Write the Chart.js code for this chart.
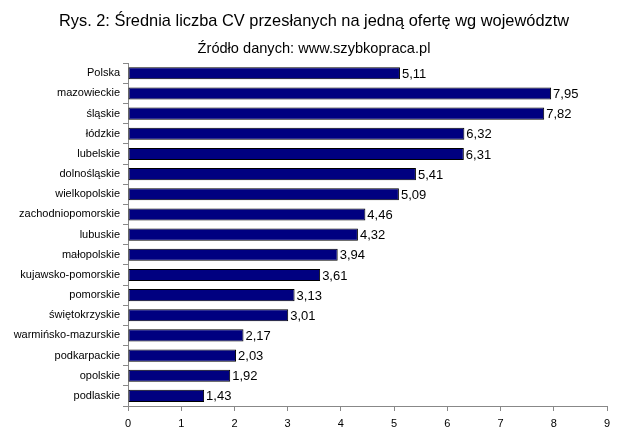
<!DOCTYPE html>
<html><head><meta charset="utf-8">
<script src="https://cdn.jsdelivr.net/npm/chart.js@4/dist/chart.umd.min.js"></script>
<style>html,body{margin:0;padding:0;background:#fff}#wrap{width:628px;height:439px}</style>
</head><body><div id="wrap"><canvas id="c" width="628" height="439"></canvas></div>
<script>
const categories = ["Polska","mazowieckie","śląskie","łódzkie","lubelskie","dolnośląskie","wielkopolskie","zachodniopomorskie","lubuskie","małopolskie","kujawsko-pomorskie","pomorskie","świętokrzyskie","warmińsko-mazurskie","podkarpackie","opolskie","podlaskie"];
const values = [5.11,7.95,7.82,6.32,6.31,5.41,5.09,4.46,4.32,3.94,3.61,3.13,3.01,2.17,2.03,1.92,1.43];
const xTicks = [0,1,2,3,4,5,6,7,8,9];

const FONT = "'Liberation Sans', Arial, sans-serif";
const valueLabels = {
  id: 'valueLabels',
  afterDatasetsDraw(chart) {
    const ctx = chart.ctx;
    const meta = chart.getDatasetMeta(0);
    ctx.save();
    ctx.font = "13px " + FONT;
    ctx.fillStyle = '#000';
    ctx.textBaseline = 'middle';
    ctx.textAlign = 'left';
    meta.data.forEach((bar, i) => {
      ctx.fillText(values[i].toFixed(2).replace('.', ','), bar.x + 2, bar.y + 1);
    });
    ctx.restore();
  }
};

new Chart(document.getElementById('c'), {
  type: 'bar',
  data: {
    labels: categories,
    datasets: [{
      data: values,
      backgroundColor: '#000080',
      borderColor: '#000000',
      borderWidth: 1,
      borderSkipped: false,
      barPercentage: 0.6,
      categoryPercentage: 1.0
    }]
  },
  options: {
    indexAxis: 'y',
    responsive: false,
    animation: false,
    devicePixelRatio: 1,
    layout: { padding: { left: 0, right: 0, top: 0, bottom: 0 } },
    plugins: {
      legend: { display: false },
      tooltip: { enabled: false },
      title: { display: true, text: 'Rys. 2: Średnia liczba CV przesłanych na jedną ofertę wg województw',
        color: '#000', font: { family: FONT, size: 16.4, weight: 'normal' }, padding: { top: 12, bottom: 9 } },
      subtitle: { display: true, text: 'Źródło danych: www.szybkopraca.pl',
        color: '#000', font: { family: FONT, size: 14.6, weight: 'normal' }, padding: { top: 0, bottom: 5 } }
    },
    scales: {
      x: {
        type: 'linear', min: 0, max: 9,
        afterBuildTicks(s) { s.ticks = xTicks.map(v => ({ value: v })); },
        afterFit(s) { s.height = 33; },
        grid: { drawOnChartArea: false, drawTicks: true, tickLength: 5, color: '#888' },
        border: { color: '#888' },
        ticks: { color: '#000', font: { family: FONT, size: 11 }, padding: 6, maxRotation: 0 }
      },
      y: {
        type: 'category',
        afterFit(s) { s.width = 128; },
        grid: { drawOnChartArea: false, drawTicks: true, tickLength: 5, color: '#888', offset: true },
        border: { color: '#888' },
        ticks: { color: '#000', font: { family: FONT, size: 11 }, padding: 3, autoSkip: false }
      },
      yRight: {
        type: 'category',
        position: 'right',
        afterFit(s) { s.width = 21; },
        grid: { display: false },
        border: { display: false },
        ticks: { display: false }
      }
    }
  },
  plugins: [valueLabels]
});
</script></body></html>
